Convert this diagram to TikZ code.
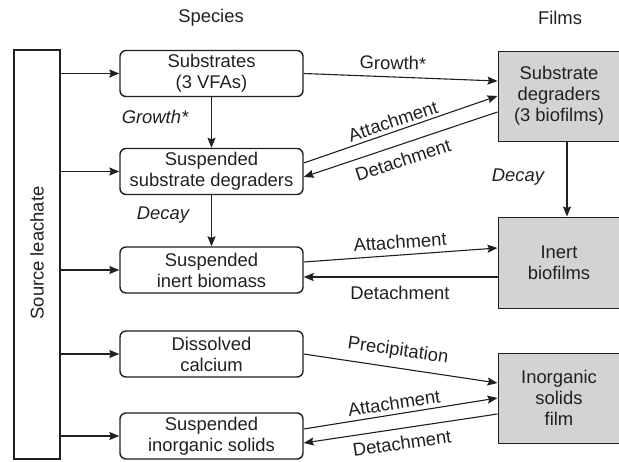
\documentclass[tikz,border=0pt]{standalone}
\usepackage{fontspec}
\setmainfont{Liberation Sans}
\usetikzlibrary{arrows.meta}
\definecolor{filmgray}{RGB}{211,211,211}
\definecolor{ink}{RGB}{35,31,32}
\begin{document}
\begin{tikzpicture}[x=1pt,y=-1pt,
  font=\fontsize{18.4}{21}\selectfont, text=ink,
  species/.style={draw=ink, line width=1.4pt, rounded corners=6pt, minimum width=183pt, minimum height=46pt, align=center, inner sep=0pt},
  film/.style={draw=ink, line width=1pt, fill=filmgray, minimum width=122pt, align=center, inner sep=0pt},
  srcbox/.style={draw=ink, line width=1.2pt, minimum width=46pt, minimum height=409pt, inner sep=0pt},
  conn/.style={draw=ink, line width=1.1pt, -{Stealth[length=10pt,width=8pt,inset=1.5pt]}},
  lab/.style={inner sep=0pt},
  proc/.style={font=\fontsize{18.4}{21}\selectfont\itshape, inner sep=0pt}
]
\useasboundingbox (0,0) rectangle (619,461);

\node (hspecies) at (211,18) {Species};
\node (hfilms) at (560,18) {Films};

\node[srcbox] (src) at (37,254.5) {};
\node[rotate=90] (srclabel) at (37,253) {Source leachate};

\node[species] (s1) at (211.5,73.5) {Substrates\\(3 VFAs)};
\node[species] (s2) at (211.5,171.5) {Suspended\\substrate degraders};
\node[species] (s3) at (211.5,270) {Suspended\\inert biomass};
\node[species] (s4) at (211.5,354) {Dissolved\\calcium};
\node[species] (s5) at (211.5,436) {Suspended\\inorganic solids};

\node[film, minimum height=90pt] (f1) at (559,96) {Substrate\\degraders\\(3 biofilms)};
\node[film, minimum height=91pt] (f2) at (559,262.5) {Inert\\biofilms};
\node[film, minimum height=90pt] (f3) at (559,398) {Inorganic\\solids\\film};

\foreach \s in {s1,s2,s3,s4,s5}
  \draw[conn] (src.east |- \s.west) -- (\s.west);

\draw[conn] (s1.south) -- (s2.north);
\node[proc] (lgrowth) at (155,117) {Growth*};
\draw[conn] (s2.south) -- (s3.north);
\node[proc] (ldecay) at (163,215) {Decay};
\draw[conn] ([xshift=8pt]f1.south) -- ([xshift=8pt]f2.north);
\node[proc] (ldecayf) at (518,177) {Decay};

\draw[conn] (s1.east) -- ([yshift=15pt]f1.west);
\node[lab, rotate=-1] (lg) at (393,63) {Growth*};
\draw[conn] ([yshift=8.5pt]s2.east) -- (f1.west);
\node[lab, rotate=18.6] (la1) at (393,121) {Attachment};
\draw[conn] ([yshift=-16pt]f1.west) -- ([yshift=-5.5pt]s2.east);
\node[lab, rotate=18.3] (ld1) at (403,160) {Detachment};

\draw[conn] ([yshift=8pt]s3.east) -- ([yshift=14.5pt]f2.west);
\node[lab, rotate=4] (la2) at (400,242) {Attachment};
\draw[conn] ([yshift=-14.5pt]f2.west) -- ([yshift=-7pt]s3.east);
\node[lab] (ld2) at (400,293) {Detachment};

\draw[conn] (s4.east) -- ([yshift=15pt]f3.west);
\node[lab, rotate=-8.4] (lp) at (398,351) {Precipitation};
\draw[conn] ([yshift=7pt]s5.east) -- (f3.west);
\node[lab, rotate=8.7] (la3) at (394,403) {Attachment};
\draw[conn] ([yshift=-16pt]f3.west) -- ([yshift=-7pt]s5.east);
\node[lab, rotate=8.4] (ld3) at (402,443) {Detachment};
\end{tikzpicture}
\end{document}
